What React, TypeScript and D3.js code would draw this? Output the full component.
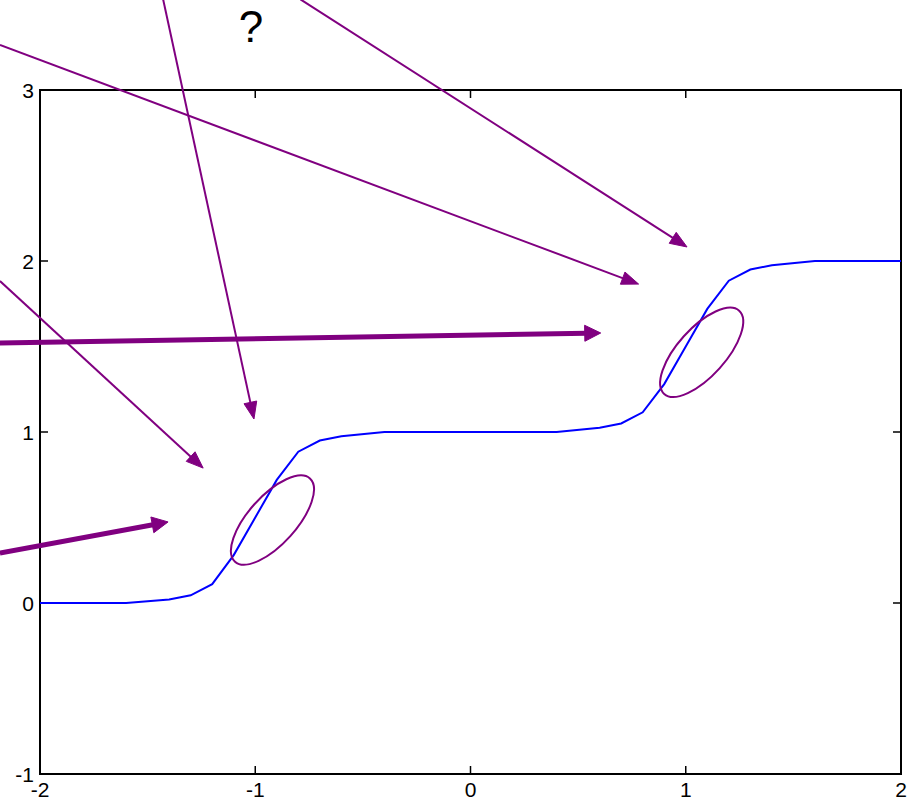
import React from "react";
import * as d3 from "d3";

const xs = [-2, -1.6, -1.4, -1.3, -1.2, -1.1, -1, -0.9, -0.8, -0.7, -0.6, -0.4, 0.4, 0.6, 0.7, 0.8, 0.9, 1.0, 1.1, 1.2, 1.3, 1.4, 1.6, 2];
const ys = [0, 0, 0.02, 0.045, 0.11, 0.28, 0.5, 0.72, 0.885, 0.95, 0.975, 1, 1, 1.025, 1.05, 1.115, 1.28, 1.5, 1.72, 1.885, 1.95, 1.975, 2, 2];

const xTicks = [-2, -1, 0, 1, 2];
const yTicks = [-1, 0, 1, 2, 3];

const arrowTails = [
  [-1.428, 3.53],
  [-0.79, 3.53],
  [-2.186, 3.263],
  [-2.186, 1.883],
  [-2.186, 1.52],
  [-2.186, 0.292],
];
const arrowTips = [
  [-1.006, 1.076],
  [1.006, 2.082],
  [0.781, 1.865],
  [-1.242, 0.789],
  [0.605, 1.579],
  [-1.405, 0.474],
];
const arrowThick = [false, false, false, false, true, true];

const ellipseCenters = [
  [-0.92, 0.485],
  [1.074, 1.466],
];

const questionLabel = "?";
const questionPos = [-1.02, 3.28];

export default function App() {
  const W = 912, H = 798;
  const x = d3.scaleLinear().domain([-2, 2]).range([40, 901]);
  const y = d3.scaleLinear().domain([-1, 3]).range([774, 90]);
  const line = d3.line<number>().x((_, i) => x(xs[i])).y((_, i) => y(ys[i]));
  const purple = "#800080";
  const font = "'Liberation Sans', Arial, Helvetica, sans-serif";
  const tickLen = 8;

  const arrows = arrowTails.map((t, i) => {
    const x0 = x(t[0]), y0 = y(t[1]);
    const x1 = x(arrowTips[i][0]), y1 = y(arrowTips[i][1]);
    const thick = arrowThick[i];
    const L = thick ? 16 : 17;
    const Wd = thick ? 16 : 13;
    const dx = x1 - x0, dy = y1 - y0;
    const len = Math.hypot(dx, dy);
    const ux = dx / len, uy = dy / len;
    const bx = x1 - ux * L, by = y1 - uy * L;
    const px = -uy, py = ux;
    const head = `${x1},${y1} ${bx + px * Wd / 2},${by + py * Wd / 2} ${bx - px * Wd / 2},${by - py * Wd / 2}`;
    return (
      <g key={i}>
        <line x1={x0} y1={y0} x2={bx + ux * 2} y2={by + uy * 2} stroke={purple} strokeWidth={thick ? 5 : 2} />
        <polygon points={head} fill={purple} stroke={purple} strokeWidth={1} strokeLinejoin="miter" />
      </g>
    );
  });

  return (
    <svg width={W} height={H} style={{ position: "absolute", left: 0, top: 0, background: "#fff" }} fontFamily={font}>
      <rect x={0} y={0} width={W} height={H} fill="#fff" />
      {xTicks.map((t) => (
        <g key={"xt" + t}>
          <line x1={x(t)} x2={x(t)} y1={774} y2={774 - tickLen} stroke="#000" strokeWidth={1.5} />
          <line x1={x(t)} x2={x(t)} y1={90} y2={90 + tickLen} stroke="#000" strokeWidth={1.5} />
          <text x={x(t)} y={797} fontSize={21} textAnchor="middle" fill="#000">{t}</text>
        </g>
      ))}
      {yTicks.map((t) => (
        <g key={"yt" + t}>
          <line x1={40} x2={40 + tickLen} y1={y(t)} y2={y(t)} stroke="#000" strokeWidth={1.5} />
          <line x1={901} x2={901 - tickLen} y1={y(t)} y2={y(t)} stroke="#000" strokeWidth={1.5} />
          <text x={34} y={y(t) + 7.5} fontSize={21} textAnchor="end" fill="#000">{t}</text>
        </g>
      ))}
      <rect x={40} y={90} width={861} height={684} fill="none" stroke="#000" strokeWidth={2} />
      <path d={line(xs) || ""} fill="none" stroke="#0000ff" strokeWidth={2} />
      {ellipseCenters.map((c, i) => (
        <ellipse key={i} cx={0} cy={0} rx={56} ry={24} fill="none" stroke={purple} strokeWidth={2}
          transform={`translate(${x(c[0])},${y(c[1])}) rotate(-48)`} />
      ))}
      {arrows}
      <text x={x(questionPos[0])} y={y(questionPos[1])} fontSize={44} textAnchor="middle" fill="#000">{questionLabel}</text>
    </svg>
  );
}
